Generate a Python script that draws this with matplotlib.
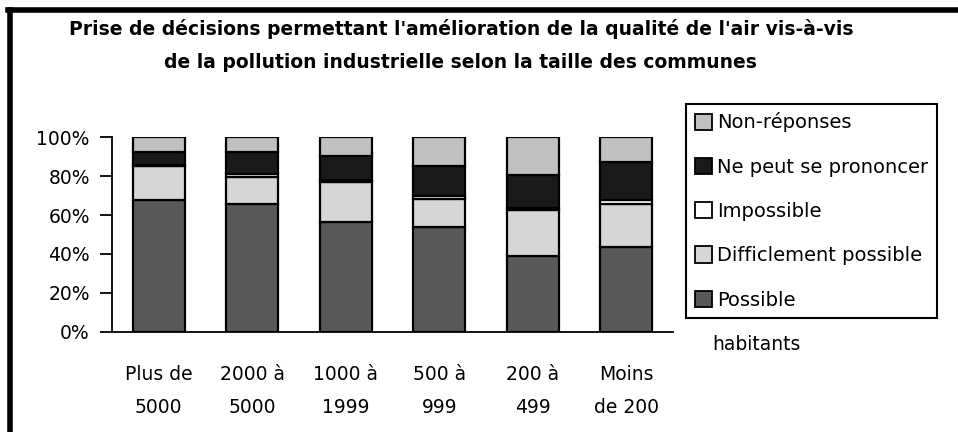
import matplotlib
matplotlib.use("Agg")
import matplotlib.pyplot as plt
import numpy as np
from matplotlib.patches import Patch

# data (percent)
communes = ["Plus de\n5000", "2000 à\n5000", "1000 à\n1999", "500 à\n999", "200 à\n499", "Moins\nde 200"]
possible = [67.5, 65.5, 56.5, 54.0, 39.0, 43.5]
difficile = [17.5, 14.0, 20.5, 14.5, 23.5, 22.0]
impossible = [0.5, 1.5, 1.0, 1.5, 1.0, 2.0]
ne_peut = [7.0, 11.5, 12.5, 15.0, 17.0, 20.0]
non_rep = [7.5, 7.5, 9.5, 15.0, 19.5, 12.5]

series = [
    ("Possible", possible, "#595959"),
    ("Difficlement possible", difficile, "#d6d6d6"),
    ("Impossible", impossible, "#ffffff"),
    ("Ne peut se prononcer", ne_peut, "#1a1a1a"),
    ("Non-réponses", non_rep, "#c0c0c0"),
]

plt.rcParams['font.family'] = 'DejaVu Sans'

fig = plt.figure(figsize=(9.58, 4.32), dpi=100)
ax = fig.add_axes([0.1169, 0.2322, 0.5856, 0.45])

x = np.arange(len(communes))
bottom = np.zeros(len(communes))
for name, vals, col in series:
    vals = np.array(vals)
    ax.bar(x, vals, 0.56, bottom=bottom, color=col, edgecolor="black", linewidth=1.6, label=name)
    bottom += vals

ax.set_xlim(-0.5, 5.5)
ax.set_ylim(0, 100)
ax.set_yticks(np.arange(0, 101, 20))
ax.set_yticklabels([f"{v}%" for v in range(0, 101, 20)], fontsize=13.5)
ax.set_xticks(x)
ax.set_xticklabels(communes, fontsize=13.5, linespacing=1.95)
ax.tick_params(axis="x", length=0, pad=24)
ax.tick_params(axis="y", direction="out", length=9, width=1.3, pad=7)
for s in ["top", "right"]:
    ax.spines[s].set_visible(False)
ax.spines["left"].set_linewidth(1.3)
ax.spines["bottom"].set_linewidth(1.3)

fig.text(0.4817, 0.933, "Prise de décisions permettant l'amélioration de la qualité de l'air vis-à-vis",
         ha="center", va="center", fontsize=13.5, fontweight="bold")
fig.text(0.481, 0.856, "de la pollution industrielle selon la taille des communes",
         ha="center", va="center", fontsize=13.5, fontweight="bold")

handles = [Patch(facecolor=c, edgecolor="black", linewidth=1.3) for _, _, c in series][::-1]
labels = [n for n, _, _ in series][::-1]
leg = fig.legend(handles, labels, loc="upper left", bbox_to_anchor=(0.716, 0.76),
                 fontsize=14, frameon=True, fancybox=False, edgecolor="black",
                 framealpha=1, handlelength=0.9, handleheight=0.9, handletextpad=0.25,
                 labelspacing=1.3, borderpad=0.45, borderaxespad=0)
leg.get_frame().set_linewidth(1.5)

fig.text(0.743, 0.202, "habitants", ha="left", va="center", fontsize=13.5)

# outer frame (only top and left edges visible)
fig.add_artist(plt.Line2D([0.0105, 0.0105], [0.0, 0.977], color="black", linewidth=4, transform=fig.transFigure))
fig.add_artist(plt.Line2D([0.008, 1.0], [0.977, 0.977], color="black", linewidth=4, transform=fig.transFigure))

fig.savefig("out.png", dpi=100)
